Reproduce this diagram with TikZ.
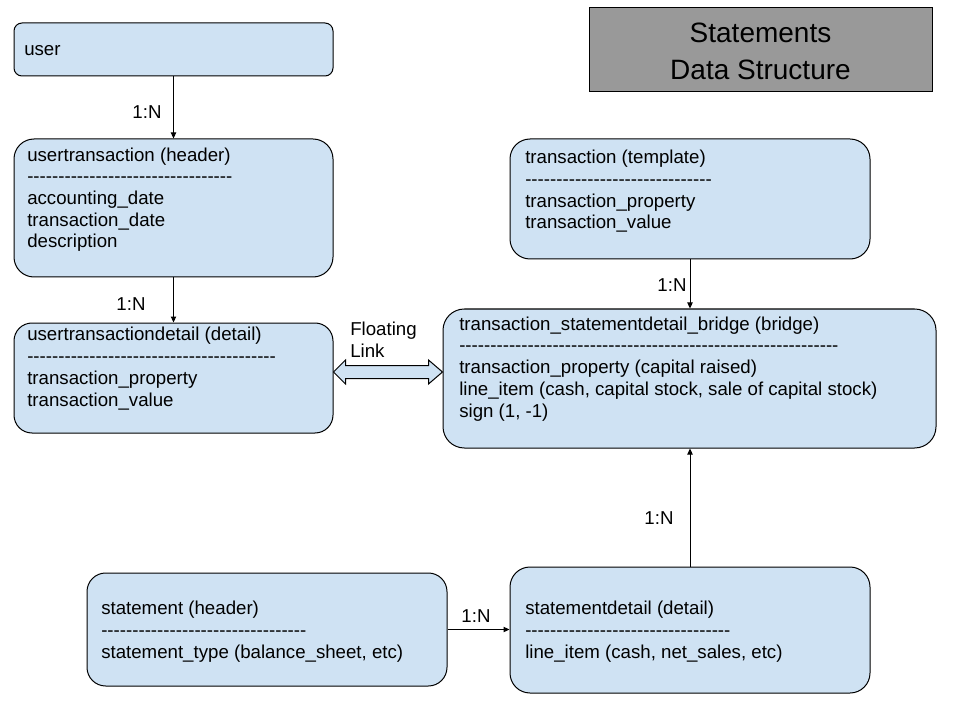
\documentclass[tikz,border=0pt]{standalone}
\usepackage{fontspec}
\setmainfont{Liberation Sans}
\usetikzlibrary{arrows.meta,calc}
\definecolor{boxblue}{HTML}{CFE2F3}
\definecolor{titlegray}{HTML}{999999}
% a row of separate hyphens (kerns keep them from joining into dashes)
\newcommand\dashrow[1]{\foreach\k in {1,...,#1}{-\kern0pt}}

\begin{document}
\begin{tikzpicture}[x=0.75pt,y=-0.75pt,
  entity/.style={draw=black, line width=0.75pt, fill=boxblue, inner sep=0pt},
  titlebox/.style={draw=black, line width=0.75pt, fill=titlegray, inner sep=0pt,
    minimum width=257.25pt, minimum height=63pt},
  % field lists are placed by the baseline of their last line
  fields/.style={anchor=base west, align=left, inner sep=0pt,
    font=\fontsize{14}{16.3}\selectfont},
  lbl/.style={inner sep=0pt, font=\fontsize{14}{16.3}\selectfont},
  link/.style={line width=0.75pt, -{Triangle[length=4.5pt,width=4pt]}},
  floatarrow/.style={draw=black, line width=0.75pt, fill=boxblue, line join=miter}]

\useasboundingbox[fill=white] (0,0) rectangle (960,720);

% title
\node[titlebox] (title) at (760.5,50) {};
\node[align=center, inner sep=0pt, font=\fontsize{21}{27.75}\selectfont]
  (titletext) at (760.5,51) {Statements\\Data Structure};

% entity boxes
\node[entity, minimum width=239.25pt, minimum height=39.75pt, rounded corners=6pt]
  (user) at (173.5,49.5) {};
\node[entity, minimum width=239.25pt, minimum height=103.5pt, rounded corners=15pt]
  (ut) at (173.5,208) {};
\node[entity, minimum width=239.25pt, minimum height=82.5pt, rounded corners=13.5pt]
  (utd) at (173.5,378) {};
\node[entity, minimum width=270pt, minimum height=90pt, rounded corners=15pt]
  (tpl) at (690,199) {};
\node[entity, minimum width=369.75pt, minimum height=104.25pt, rounded corners=16pt]
  (bridge) at (689.5,378.5) {};
\node[entity, minimum width=270pt, minimum height=84.75pt, rounded corners=14pt]
  (st) at (267,629.5) {};
\node[entity, minimum width=270pt, minimum height=94.5pt, rounded corners=15pt]
  (sd) at (690,630) {};

% field lists
\node[fields] (usertxt) at (24,56) {user};
\node[fields] (uttxt) at (27,248) {usertransaction (header)\\\dashrow{33}\\
  accounting\_date\\transaction\_date\\description};
\node[fields] (utdtxt) at (27,406) {usertransactiondetail (detail)\\\dashrow{40}\\
  transaction\_property\\transaction\_value};
\node[fields] (tpltxt) at (525,229) {transaction (template)\\\dashrow{30}\\
  transaction\_property\\transaction\_value};
\node[fields] (bridgetxt) at (459,417) {transaction\_statementdetail\_bridge (bridge)\\
  \dashrow{61}\\transaction\_property (capital raised)\\
  line\_item (cash, capital stock, sale of capital stock)\\sign (1, -1)};
\node[fields] (sttxt) at (101,658) {statement (header)\\\dashrow{33}\\
  statement\_type (balance\_sheet, etc)};
\node[fields] (sdtxt) at (525,658) {statementdetail (detail)\\\dashrow{33}\\
  line\_item (cash, net\_sales, etc)};

% one-to-many links
\draw[link] (user.south) -- (ut.north);
\draw[link] (ut.south) -- (utd.north);
\draw[link] (tpl.south) -- (tpl.south |- bridge.north);
\draw[link] (sd.north) -- (sd.north |- bridge.south);
\draw[link] (st.east) -- (st.east -| sd.west);

\node[lbl] (c1) at (147,112) {1:N};
\node[lbl] (c2) at (131,304) {1:N};
\node[lbl] (c3) at (672,285) {1:N};
\node[lbl] (c4) at (659,518) {1:N};
\node[lbl] (c5) at (476,616) {1:N};

% floating link between detail and bridge
\coordinate (fa) at (utd.east |- 0,372);
\coordinate (fb) at (bridge.west |- 0,372);
\draw[floatarrow] (fa) -- ++(12,-12) -- ++(0,5.5) -- ($(fb)+(-14,-6.5)$)
  -- ++(0,-5.5) -- (fb) -- ++(-14,12) -- ++(0,-5.5) -- ($(fa)+(12,6.5)$)
  -- ++(0,5.5) -- cycle;
\node[fields] (floattxt) at (350,357) {Floating\\Link};

\end{tikzpicture}
\end{document}
